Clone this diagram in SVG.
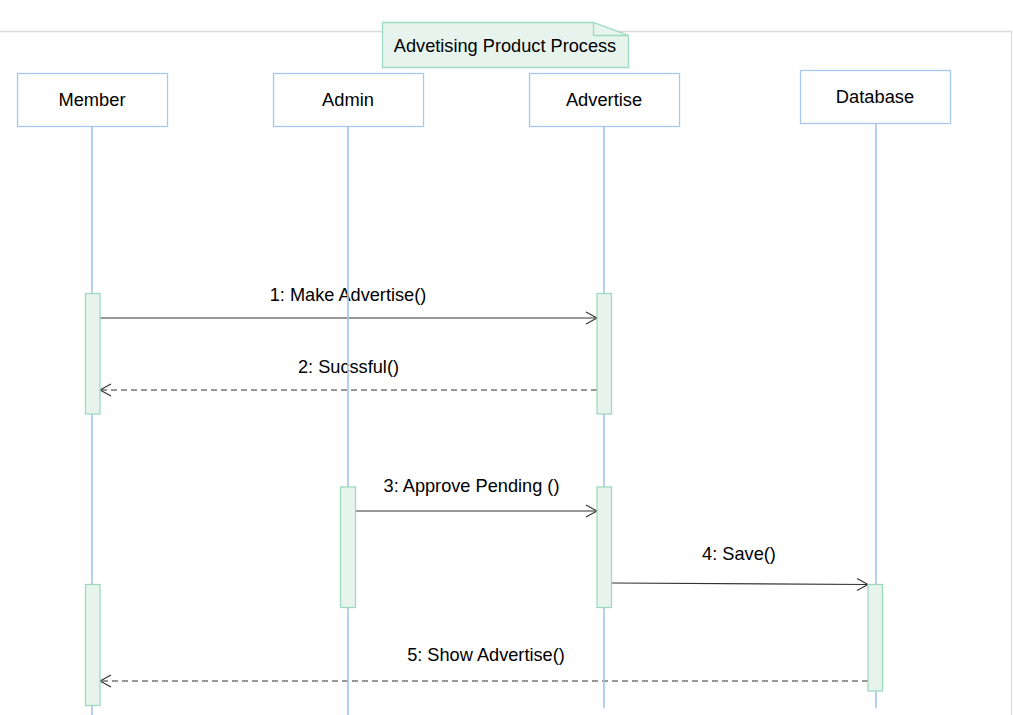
<svg xmlns="http://www.w3.org/2000/svg" width="1013" height="715" viewBox="0 0 1013 715">
<defs>
<style>
text{font-family:"Liberation Sans",Arial,sans-serif;fill:#000;text-anchor:middle}
.name{font-size:18.3px}
.lbl{font-size:18.2px}
.head{fill:#fff;stroke:#a9c9ec;stroke-width:1.3}
.life{stroke:#a3c5ec;stroke-width:1.6;fill:none}
.act{fill:#e7f4ee;stroke:#9fd9c2;stroke-width:1.3}
.msg{stroke:#333;stroke-width:1.1;fill:none}
.dash{stroke-dasharray:6 4}
</style>
<marker id="open" markerWidth="14" markerHeight="14" refX="12" refY="7" orient="auto" markerUnits="userSpaceOnUse">
<path d="M1,1 L12,7 L1,13" fill="none" stroke="#333" stroke-width="1.1"/>
</marker>
</defs>
<rect width="1013" height="715" fill="#fff"/>
<g id="frame">
<path d="M0,31.5 H1011.5 V715" fill="none" stroke="#dcdcdc" stroke-width="1.3"/>
</g>
<g id="title">
<path d="M382.5,22.5 H593.5 L628.5,35.5 V67.5 H382.5 Z" fill="#e7f4ee" stroke="#9fd9c2" stroke-width="1.3"/>
<path d="M593.5,22.5 V35.5 H628.5" fill="none" stroke="#9fd9c2" stroke-width="1.3"/>
<text class="lbl" x="505" y="51.5">Advetising Product Process</text>
</g>
<g id="connectors">
<line class="msg" x1="100" y1="318" x2="597" y2="318" marker-end="url(#open)"/>
<text class="lbl" x="348" y="301">1: Make Advertise()</text>
<line class="msg dash" x1="597" y1="390" x2="100" y2="390" marker-end="url(#open)"/>
<text class="lbl" x="348.5" y="373">2: Sucssful()</text>
<line class="msg" x1="356" y1="511" x2="597" y2="511" marker-end="url(#open)"/>
<text class="lbl" x="471.5" y="492">3: Approve Pending ()</text>
<line class="msg" x1="612" y1="583" x2="868" y2="584.5" marker-end="url(#open)"/>
<text class="lbl" x="739" y="560">4: Save()</text>
<line class="msg dash" x1="868" y1="681" x2="100" y2="681" marker-end="url(#open)"/>
<text class="lbl" x="486" y="661">5: Show Advertise()</text>
</g>
<g id="member">
<rect class="head" x="17.5" y="73.5" width="150" height="53"/>
<text class="name" x="92" y="106">Member</text>
<line class="life" x1="92" y1="127" x2="92" y2="715"/>
<rect class="act" x="85.5" y="293.5" width="14.5" height="120.5"/>
<rect class="act" x="85.5" y="584.5" width="14.5" height="121"/>
</g>
<g id="admin">
<rect class="head" x="273.5" y="73.5" width="150" height="53"/>
<text class="name" x="348" y="106">Admin</text>
<line class="life" x1="348" y1="127" x2="348" y2="715"/>
<rect class="act" x="340.5" y="487" width="15" height="120.5"/>
</g>
<g id="advertise">
<rect class="head" x="529.5" y="73.5" width="150" height="53"/>
<text class="name" x="604" y="106">Advertise</text>
<line class="life" x1="604" y1="127" x2="604" y2="708"/>
<rect class="act" x="597" y="293.5" width="14.5" height="120.5"/>
<rect class="act" x="597" y="487" width="14.5" height="120.5"/>
</g>
<g id="database">
<rect class="head" x="800.5" y="70.5" width="150" height="53"/>
<text class="name" x="875" y="103.3">Database</text>
<line class="life" x1="876" y1="124" x2="876" y2="708"/>
<rect class="act" x="868" y="584.5" width="14.5" height="106.5"/>
</g>
</svg>
